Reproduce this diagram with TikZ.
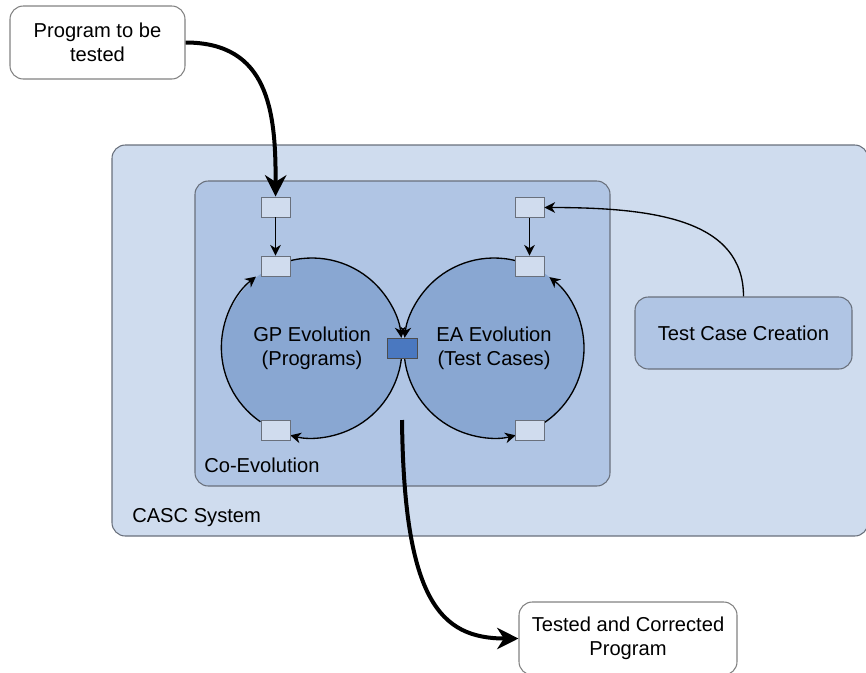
\documentclass[tikz,border=0pt]{standalone}
\usepackage{fontspec}
\setmainfont{Liberation Sans}
\usetikzlibrary{arrows.meta}

\definecolor{cascfill}{RGB}{207,220,238}
\definecolor{coevofill}{RGB}{176,197,228}
\definecolor{circfill}{RGB}{137,167,210}
\definecolor{portfill}{RGB}{208,220,238}
\definecolor{hubfill}{RGB}{74,120,192}
\definecolor{edgegray}{RGB}{105,112,124}
\definecolor{boxgray}{RGB}{130,130,130}

\tikzset{
  txt/.style={font=\fontsize{15.1}{18}\selectfont, text=black},
  caption/.style={txt, anchor=base west, inner sep=0pt},
  region/.style={draw=edgegray, line width=0.8pt, rounded corners=10pt, inner sep=0pt},
  endbox/.style={region, draw=boxgray, fill=white, txt, align=center},
  port/.style={draw=edgegray, line width=0.7pt, fill=portfill, minimum width=21.75pt, minimum height=15pt, inner sep=0pt},
  hub/.style={draw=black!70, line width=0.7pt, fill=hubfill, minimum width=22.5pt, minimum height=15pt, inner sep=0pt},
  pool/.style={circle, fill=circfill, minimum size=135pt, inner sep=0pt, outer sep=0pt, txt, align=center},
  flow/.style={line width=1pt, -{Stealth[length=8pt, width=8pt, inset=2.5pt]}},
  bigflow/.style={line width=3pt, -{Stealth[length=16pt, width=16pt, inset=5pt]}},
}

\begin{document}
\begin{tikzpicture}[x=0.75pt, y=-0.75pt]
\useasboundingbox (0,0) rectangle (866,672);
\clip (0,0) rectangle (866,672);

% enclosing regions
\node[region, fill=cascfill, minimum width=567pt, minimum height=293.25pt] (casc) at (490,340.5) {};
\node[caption] (casclabel) at (132,522) {CASC System};
\node[region, fill=coevofill, minimum width=311.25pt, minimum height=228.75pt] (coevo) at (402.5,333.5) {};
\node[caption] (coevolabel) at (204,472) {Co-Evolution};

% the two evolving populations
\node[pool] (gp) at (312,348) {GP Evolution\\(Programs)};
\node[pool] (ea) at (494,348) {EA Evolution\\(Test Cases)};

% GP cycle
\draw[flow] (gp.104) arc[start angle=-104, end angle=-6.5, radius=90];
\draw[flow] (gp.-7) arc[start angle=7, end angle=104, radius=90];
\draw[flow] (gp.235.5) arc[start angle=-235.5, end angle=-128, radius=90];

% EA cycle
\draw[flow] (ea.76) arc[start angle=-76, end angle=-173.5, radius=90];
\draw[flow] (ea.187) arc[start angle=-187, end angle=-284, radius=90];
\draw[flow] (ea.-56) arc[start angle=56, end angle=-52, radius=90];

% ports
\node[port] (inl) at (275.5,207) {};
\node[port] (inr) at (529.5,207.5) {};
\node[port] (gptop) at (275.5,266) {};
\node[port] (eatop) at (529.5,266) {};
\node[port] (gpbot) at (275.5,430) {};
\node[port] (eabot) at (529.5,430) {};
\node[hub] (hub) at (402,348) {};

\draw[flow] (inl.south) -- (gptop.north);
\draw[flow] (inr.south) -- (eatop.north);

% test case creation
\node[region, fill=coevofill, minimum width=162.75pt, minimum height=54pt, txt] (tcc) at (743.5,333) {Test Case Creation};
\draw[flow] (tcc.north) .. controls (743.5,220) and (655,207.5) .. (inr.east);

% input and output
\node[endbox, minimum width=131.25pt, minimum height=54.75pt] (prog) at (97.5,42.5) {Program to be\\tested};
\node[endbox, minimum width=163.5pt, minimum height=54.75pt] (tested) at (628,638.5) {Tested and Corrected\\Program};

\draw[bigflow] (prog.east) .. controls (268,42.5) and (276,110) .. (inl.north);
\coordinate (out) at (402,420);
\draw[bigflow] (out) .. controls (404,600) and (440,638.5) .. (tested.west);
\end{tikzpicture}
\end{document}
